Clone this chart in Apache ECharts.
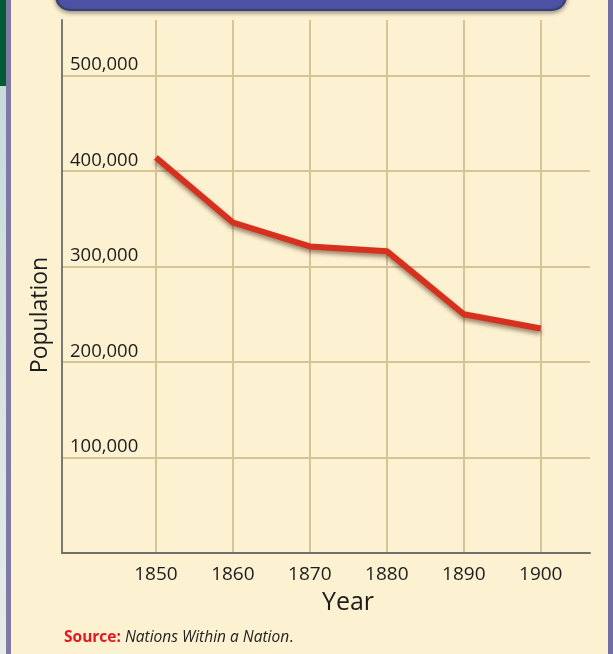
<!DOCTYPE html>
<html>
<head>
<meta charset="utf-8">
<script src="https://cdn.jsdelivr.net/npm/echarts@6/dist/echarts.min.js"></script>
<style>
  html, body { margin: 0; padding: 0; background: #fcf1d1; }
  #chart { width: 613px; height: 654px; }
</style>
</head>
<body>
<div id="chart"></div>
<script>
// population by decade
var years = [1850, 1860, 1870, 1880, 1890, 1900];
var population = [414000, 346000, 321000, 316000, 250000, 235000];
var yearTicks = [1850, 1860, 1870, 1880, 1890, 1900];

var font = "'Open Sans', 'DejaVu Sans Condensed', sans-serif";
var chart = echarts.init(document.getElementById("chart"));

var points = [];
for (var i = 0; i < years.length; i++) {
  points.push([years[i], population[i]]);
}

var option = {
  backgroundColor: "#fcf1d1",
  animation: false,
  grid: {
    left: 62,
    right: 23,
    top: 20,
    bottom: 101
  },
  xAxis: {
    type: "value",
    min: 1837.8,
    max: 1906.4,
    axisLine: { show: true, lineStyle: { color: "#6f6f6a", width: 2 } },
    axisTick: { show: false, customValues: yearTicks },
    axisLabel: {
      customValues: yearTicks,
      margin: 12,
      fontFamily: font,
      fontSize: 19,
      color: "#1c1c1c",
      formatter: function (v) { return String(v); }
    },
    splitLine: { show: true, lineStyle: { color: "#d6c398", width: 2 } }
  },
  yAxis: {
    type: "value",
    min: 0,
    max: 558000,
    interval: 100000,
    axisLine: { show: true, lineStyle: { color: "#7a7a74", width: 2 } },
    axisTick: { show: false },
    axisLabel: {
      inside: true,
      margin: 8,
      verticalAlign: "bottom",
      padding: [0, 0, 1, 0],
      showMinLabel: false,
      showMaxLabel: false,
      fontFamily: font,
      fontSize: 18.5,
      color: "#1c1c1c",
      formatter: function (v) { return v.toLocaleString("en-US"); }
    },
    splitLine: {
      show: true,
      showMinLine: false,
      showMaxLine: false,
      lineStyle: { color: "#d6c398", width: 2 }
    }
  },
  graphic: [
    // left page strips and borders
    { type: "rect", shape: { x: 0, y: 0, width: 6, height: 86 }, style: { fill: "#005a32" } },
    { type: "rect", shape: { x: 0, y: 86, width: 6, height: 568 },
      style: { fill: new echarts.graphic.LinearGradient(0, 0, 0, 1, [
        { offset: 0, color: "#c9dad9" }, { offset: 1, color: "#e6ece8" }]) } },
    { type: "rect", shape: { x: 6, y: 0, width: 5, height: 654 }, style: { fill: "#7f7ba6" } },
    { type: "rect", shape: { x: 608, y: 0, width: 5, height: 654 }, style: { fill: "#716ea6" } },
    // title bar cut off at the top
    { type: "rect", shape: { x: 56, y: -30, width: 510, height: 40, r: 14 },
      style: { fill: "#4d52a4", stroke: "#3b3d76", lineWidth: 2,
        shadowColor: "rgba(0,0,0,0.35)", shadowBlur: 4, shadowOffsetY: 2 } },
    // axis titles
    { type: "text", x: 40, y: 315, rotation: Math.PI / 2,
      style: { text: "Population", font: "23px " + font, fill: "#1c1c1c",
        align: "center", verticalAlign: "middle" } },
    { type: "text", x: 348, y: 603,
      style: { text: "Year", font: "25px " + font, fill: "#1c1c1c",
        align: "center", verticalAlign: "middle" } },
    // source note
    { type: "text", left: 64, top: 630,
      style: {
        text: "{b|Source:} {i|Nations Within a Nation}.",
        font: "15.5px " + font,
        fill: "#222",
        rich: {
          b: { fontFamily: font, fontSize: 15.5, fontWeight: "bold", fill: "#e3171f", color: "#e3171f" },
          i: { fontFamily: font, fontSize: 15.5, fontStyle: "italic", fill: "#222", color: "#222" }
        }
      } }
  ],
  series: [
    {
      type: "line",
      data: points,
      symbol: "none",
      lineStyle: {
        color: "#d6301f",
        width: 6,
        shadowColor: "rgba(60,20,0,0.5)",
        shadowBlur: 4,
        shadowOffsetY: 3
      }
    }
  ]
};

chart.setOption(option);
</script>
</body>
</html>
